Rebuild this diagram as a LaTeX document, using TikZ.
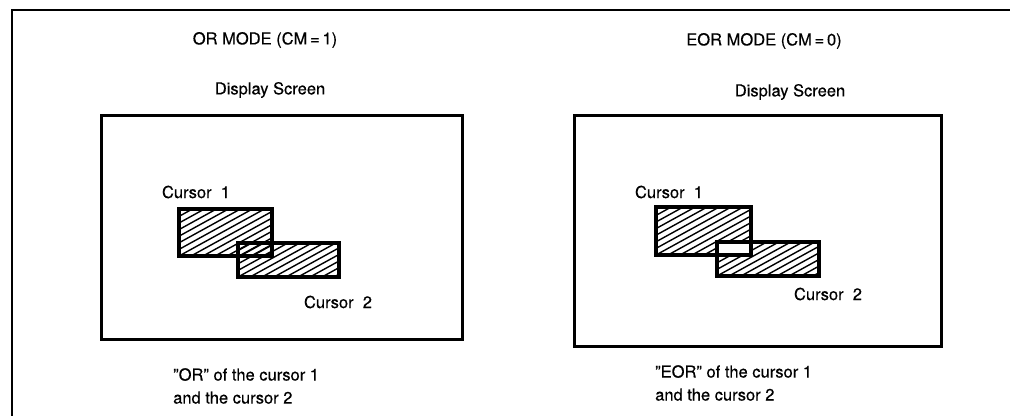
\documentclass[tikz,border=0pt]{standalone}
\usepackage{fontspec}
\setmainfont[FakeBold=0.4]{TeX Gyre Heros}
\newcommand\hatchbox[4]{%
  \begin{scope}
    \clip (#1,#2) rectangle (#3,#4);
    \foreach \k in {-14,...,14} {\draw[hatchline] ({#1+\k*12},#4) -- ++(220,-121);}
  \end{scope}}
\begin{document}
\begin{tikzpicture}[x=1pt,y=-1pt,
  frameline/.style={line width=2.6pt},
  screenbox/.style={line width=3pt},
  cursorbox/.style={line width=3.2pt},
  hatchline/.style={line width=1.4pt},
  lbl/.style={font=\fontsize{16.5}{20}\selectfont, inner sep=0pt},
  captext/.style={font=\fontsize{16.5}{23}\selectfont, inner sep=0pt, align=left, anchor=north west}]
\useasboundingbox (0,0) rectangle (1010,416);
% outer frame (open on right and bottom)
\draw[frameline] (1010,10) -- (12,10) -- (12,416);

% ---------- OR mode ----------
\node[lbl] (t1) at (265,40) {OR MODE (CM\,=\,1)};
\node[lbl] (d1) at (270,90) {Display Screen};
\draw[screenbox] (101,115) rectangle (462,339);
\hatchbox{179}{209}{272}{256}
\hatchbox{238}{243}{339}{277}
\draw[cursorbox] (179,209) rectangle (272,256);
\draw[cursorbox] (238,243) rectangle (339,277);
\node[lbl] (c11) at (196,192) {Cursor\ \ 1};
\node[lbl] (c12) at (338,302) {Cursor\ \ 2};
\node[captext] (b1) at (173,368) {”OR” of the cursor 1\\and the cursor 2};

% ---------- EOR mode ----------
\node[lbl] (t2) at (764,41) {EOR MODE (CM\,=\,0)};
\node[lbl] (d2) at (790,92) {Display Screen};
\draw[screenbox] (574,115) rectangle (941,346);
\hatchbox{656}{207}{751}{255}
\hatchbox{717}{242}{819}{276}
\fill[white] (717,242) rectangle (751,255);
\draw[cursorbox] (656,207) rectangle (751,255);
\draw[cursorbox] (717,242) rectangle (819,276);
\node[lbl] (c21) at (669,192) {Cursor\ \ 1};
\node[lbl] (c22) at (828,294) {Cursor\ \ 2};
\node[captext] (b2) at (655,365) {”EOR” of the cursor 1\\and the cursor 2};
\end{tikzpicture}
\end{document}
